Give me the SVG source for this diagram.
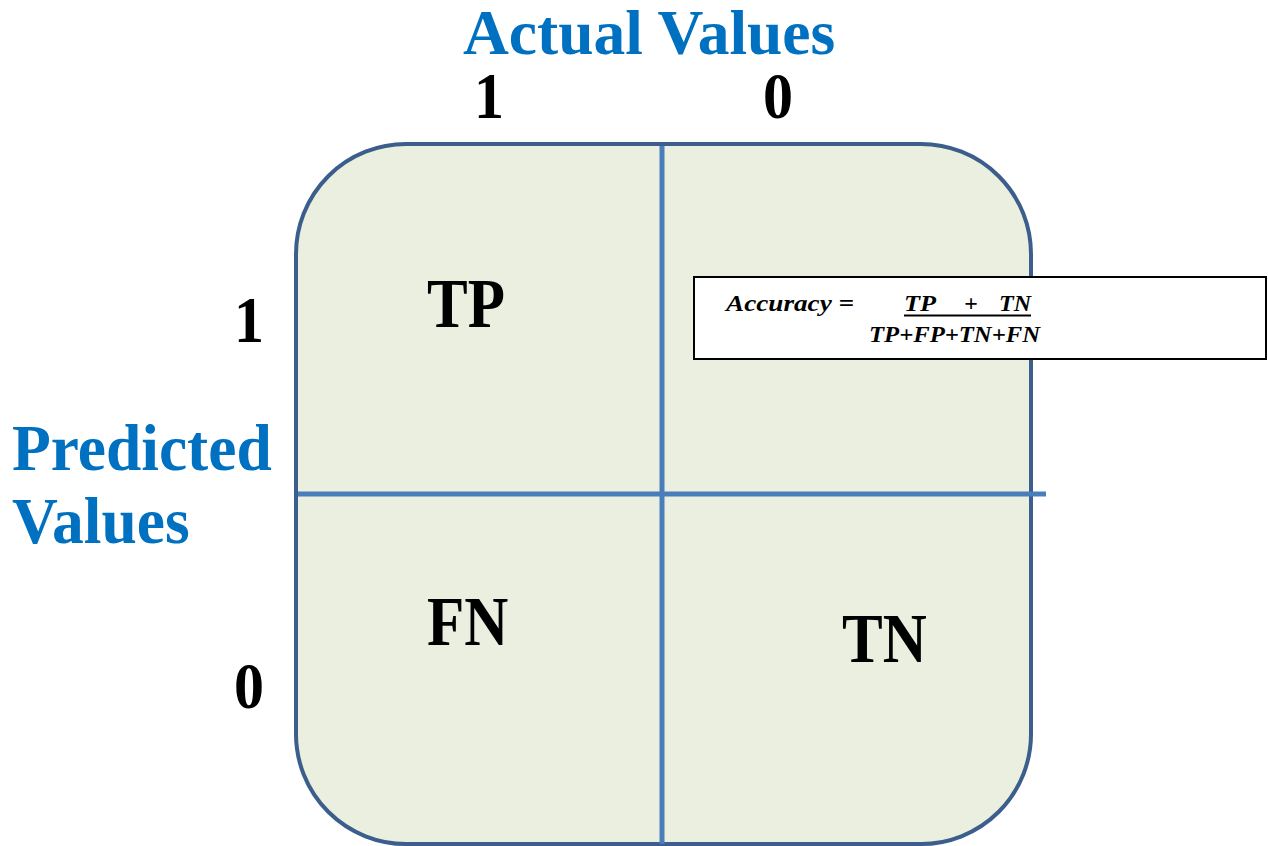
<svg xmlns="http://www.w3.org/2000/svg" width="1268" height="846" viewBox="0 0 1268 846">
  <style>
    .title { font-family: "Liberation Serif", "Times New Roman", serif; font-weight: bold; fill: #0070C0; font-size: 63.5px; }
    .digit { font-family: "Liberation Serif", "Times New Roman", serif; font-weight: bold; fill: #000; font-size: 60px; }
    .cell { font-family: "Liberation Serif", "Times New Roman", serif; font-weight: bold; fill: #000; font-size: 61px; }
    .formula { font-family: "Liberation Serif", "Times New Roman", serif; font-weight: bold; font-style: italic; fill: #000; font-size: 24px; }
    .grid { stroke: #4A7EBB; stroke-width: 5; fill: none; }
  </style>

  <rect width="1268" height="846" fill="#ffffff"/>

  <!-- matrix body -->
  <g id="matrix">
    <rect x="296" y="144" width="735" height="700" rx="110" ry="110" fill="#EBEFDF" stroke="#3B5E8C" stroke-width="4"/>
  </g>

  <!-- cell dividers -->
  <g id="connectors">
    <line class="grid" x1="662" y1="146" x2="662" y2="844"/>
    <line class="grid" x1="298" y1="494" x2="1046" y2="494"/>
  </g>

  <!-- axis headings -->
  <g id="actual-values">
    <text class="title" x="463" y="54">Actual Values</text>
  </g>
  <g id="predicted-values">
    <text class="title" transform="translate(12,470) scale(1,1.04)">Predicted</text>
    <text class="title" transform="translate(12,543) scale(1,1.04)">Values</text>
  </g>

  <!-- class labels -->
  <g id="actual-1"><text class="digit" transform="translate(474,118) scale(1,1.08)">1</text></g>
  <g id="actual-0"><text class="digit" transform="translate(763,118) scale(1,1.08)">0</text></g>
  <g id="predicted-1"><text class="digit" transform="translate(234,342) scale(1,1.08)">1</text></g>
  <g id="predicted-0"><text class="digit" transform="translate(234,708) scale(1,1.08)">0</text></g>

  <!-- cells -->
  <g id="tp"><text class="cell" transform="translate(427,327) scale(1,1.14)">TP</text></g>
  <g id="fn"><text class="cell" transform="translate(427,645) scale(1,1.14)">FN</text></g>
  <g id="tn"><text class="cell" transform="translate(842,662) scale(1,1.14)">TN</text></g>

  <!-- accuracy formula box -->
  <g id="accuracy">
    <rect x="694" y="277" width="572" height="82" fill="#ffffff" stroke="#000" stroke-width="2"/>
    <text class="formula" x="726" y="311" textLength="128" lengthAdjust="spacingAndGlyphs">Accuracy =</text>
    <text class="formula" x="904" y="311" textLength="32" lengthAdjust="spacingAndGlyphs">TP</text>
    <text class="formula" x="964" y="311">+</text>
    <text class="formula" x="999" y="311" textLength="32" lengthAdjust="spacingAndGlyphs">TN</text>
    <line x1="904" y1="315.5" x2="1031" y2="315.5" stroke="#000" stroke-width="1.8"/>
    <text class="formula" x="869" y="342" textLength="171" lengthAdjust="spacingAndGlyphs">TP+FP+TN+FN</text>
  </g>
</svg>
